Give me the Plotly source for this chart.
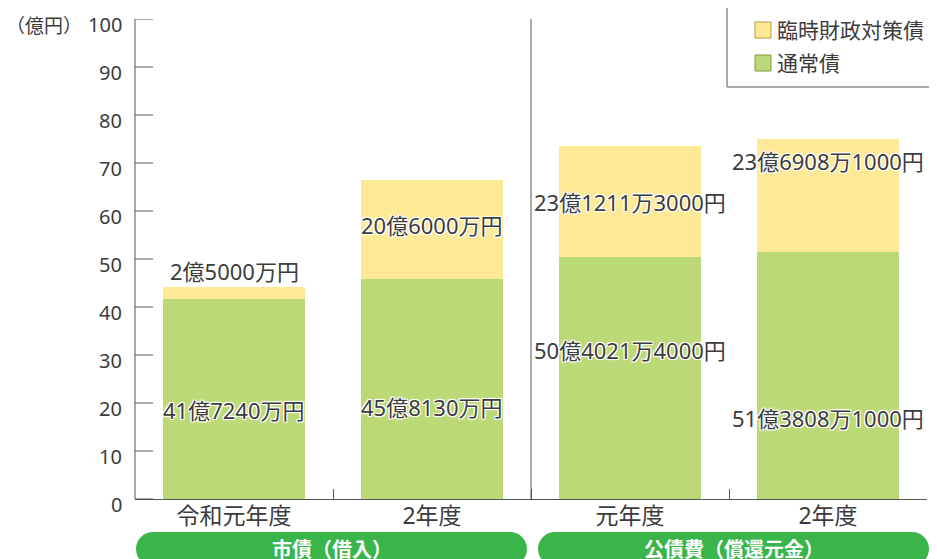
import plotly.graph_objects as go

categories = ["令和元年度", "2年度", "元年度", "2年度 "]
tick_text = ["令和元年度", "2年度", "元年度", "2年度"]
regular_bonds = [41.724, 45.813, 50.402140, 51.380810]        # 通常債 (億円)
temp_bonds = [2.5, 20.6, 23.121130, 23.690810]                 # 臨時財政対策債 (億円)
regular_labels = ["41億7240万円", "45億8130万円", "50億4021万4000円", "51億3808万1000円"]
temp_labels = ["2億5000万円", "20億6000万円", "23億1211万3000円", "23億6908万1000円"]
group_names = ["市債（借入）", "公債費（償還元金）"]
series_names = ["臨時財政対策債", "通常債"]
y_ticks = [0, 10, 20, 30, 40, 50, 60, 70, 80, 90, 100]

# label placement (data units on the y axis)
regular_label_y = [18.5, 19.2, 31.0, 16.9]
temp_label_y = [47.5, 57.1, 61.9, 70.4]

YELLOW = "#FEE996"
GREEN = "#BCD977"
PILL = "#3AB54A"
TXT = "#3c3c3c"
AX = "#555555"
FONT = "Noto Sans, Noto Sans CJK JP"

W, H = 937, 559
OFF = 8  # page body margin offset
# target screen positions of the plot area
SX0, SX1, SY0, SY1 = 135, 927, 19, 499
L = SX0 - OFF
T = SY0 - OFF
R = W - (SX1 - OFF)
B = H - (SY1 - OFF)
PW = W - L - R
PH = H - T - B


def px(x):
    return (x - SX0) / PW


def py(y):
    return (SY1 - y) / PH


fig = go.Figure()
fig.add_trace(go.Bar(x=categories, y=regular_bonds, name=series_names[1],
                     marker=dict(color=GREEN, line=dict(width=0)), showlegend=False,
                     hoverinfo="skip"))
fig.add_trace(go.Bar(x=categories, y=temp_bonds, name=series_names[0],
                     marker=dict(color=YELLOW, line=dict(width=0)), showlegend=False,
                     hoverinfo="skip"))

shadow = "1px 1px 0 #fff, -1px -1px 0 #fff, 1px -1px 0 #fff, -1px 1px 0 #fff, 0 0 3px #fff"
ann = []
for i, c in enumerate(categories):
    ann.append(dict(x=c, y=regular_label_y[i], xref="x", yref="y", text=regular_labels[i],
                    showarrow=False, font=dict(family=FONT, size=22, color=TXT, shadow=shadow)))
    ann.append(dict(x=c, y=temp_label_y[i], xref="x", yref="y", text=temp_labels[i],
                    showarrow=False, font=dict(family=FONT, size=22, color=TXT, shadow=shadow)))

shapes = []
# y tick labels (sit slightly below their ticks, as in the original) and tick marks
for v in y_ticks:
    ann.append(dict(x=px(124), y=v, xref="paper", yref="y", text=str(v), showarrow=False,
                    xanchor="right", yanchor="middle", yshift=-5,
                    font=dict(family=FONT, size=20, color=TXT)))
    shapes.append(dict(type="line", xref="paper", yref="y", x0=0, x1=px(153), y0=v, y1=v,
                       line=dict(color=AX, width=1)))

# unit label
ann.append(dict(x=px(84), y=py(26), xref="paper", yref="paper", text="（億円）",
                showarrow=False, xanchor="right", yanchor="middle",
                font=dict(family=FONT, size=19, color=TXT)))

# divider between groups
shapes.append(dict(type="line", xref="x", yref="y", x0=1.5, x1=1.5, y0=0, y1=100,
                   line=dict(color=AX, width=1)))
# y axis line
shapes.append(dict(type="line", xref="paper", yref="y", x0=0, x1=0, y0=0, y1=100,
                   line=dict(color=AX, width=1)))

# legend box
shapes.append(dict(type="rect", xref="paper", yref="paper", x0=px(727), x1=px(960),
                   y0=py(87), y1=py(-20), line=dict(color=AX, width=1), fillcolor="rgba(0,0,0,0)"))
legend_items = [(series_names[0], YELLOW, "#b59a3e", 30), (series_names[1], GREEN, "#7f9a3e", 63)]
for name, col, border, cy in legend_items:
    shapes.append(dict(type="rect", xref="paper", yref="paper", x0=px(755), x1=px(771),
                       y0=py(cy + 8), y1=py(cy - 8), line=dict(color=border, width=1), fillcolor=col))
    ann.append(dict(x=px(775), y=py(cy), xref="paper", yref="paper", text=name, showarrow=False,
                    xanchor="left", yanchor="middle", font=dict(family=FONT, size=21, color=TXT)))

# group pills
pills = [(136, 527), (538, 929)]
r = 17
top = 532
for (x0, x1), gname in zip(pills, group_names):
    shapes.append(dict(type="rect", xref="paper", yref="paper", x0=px(x0 + r), x1=px(x1 - r),
                       y0=py(top + 2 * r), y1=py(top), line=dict(width=0), fillcolor=PILL))
    shapes.append(dict(type="circle", xref="paper", yref="paper", x0=px(x0), x1=px(x0 + 2 * r),
                       y0=py(top + 2 * r), y1=py(top), line=dict(width=0), fillcolor=PILL))
    shapes.append(dict(type="circle", xref="paper", yref="paper", x0=px(x1 - 2 * r), x1=px(x1),
                       y0=py(top + 2 * r), y1=py(top), line=dict(width=0), fillcolor=PILL))
    ann.append(dict(x=px((x0 + x1) / 2), y=py(549), xref="paper", yref="paper", text=gname,
                    showarrow=False, xanchor="center", yanchor="middle",
                    font=dict(family=FONT, size=20, color="white", weight="bold")))

fig.update_layout(
    width=W, height=H,
    margin=dict(l=L, r=R, t=T, b=B, autoexpand=False),
    barmode="stack", bargap=0.283,
    plot_bgcolor="white", paper_bgcolor="white",
    showlegend=False,
    annotations=ann, shapes=shapes,
    font=dict(family=FONT, color=TXT),
)
fig.update_xaxes(
    type="category", tickmode="array", tickvals=categories, ticktext=tick_text,
    tickson="boundaries", ticks="inside", ticklen=10, tickcolor=AX, tickwidth=1,
    showline=True, linecolor=AX, linewidth=1, showgrid=False, automargin=False,
    tickfont=dict(family=FONT, size=23, color=TXT), range=[-0.5, 3.5],
    ticklabelstandoff=-4,
)
fig.update_yaxes(
    range=[0, 100], tickvals=y_ticks, ticks="", showline=False,
    showgrid=False, zeroline=False, automargin=False, showticklabels=False,
)

fig.write_html("out.html")
